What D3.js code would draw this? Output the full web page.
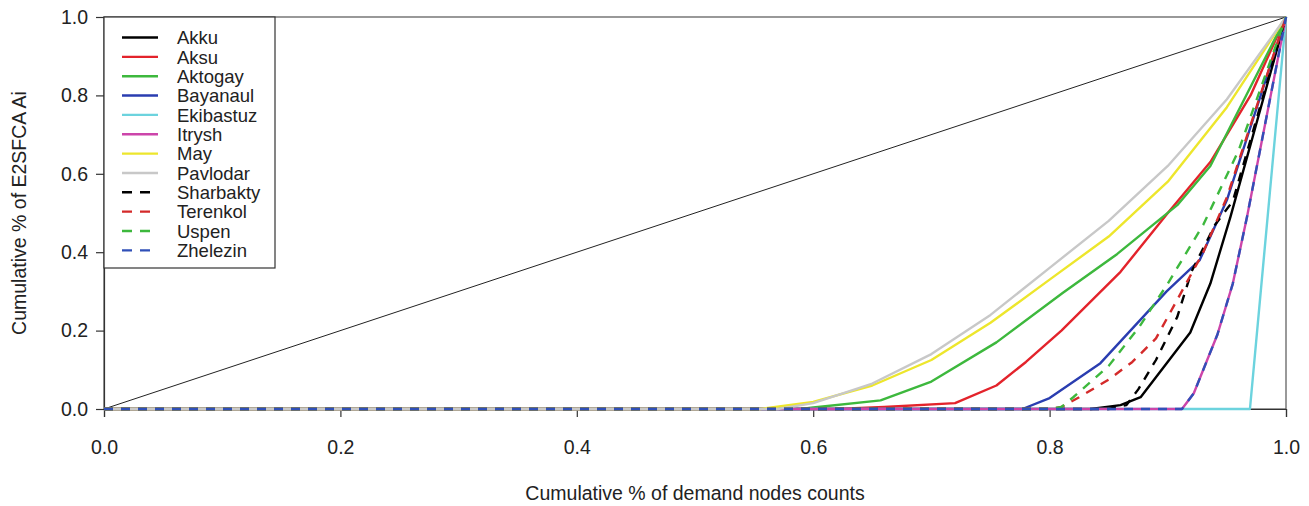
<!DOCTYPE html>
<html>
<head>
<meta charset="utf-8">
<script src="https://cdn.jsdelivr.net/npm/d3@7"></script>
<style>
  html, body { margin: 0; padding: 0; background: #fff; }
  svg { display: block; }
  text { font-family: "Liberation Sans", Arial, sans-serif; fill: #222; }
</style>
</head>
<body>
<svg id="chart" width="1309" height="506"></svg>
<script>
// ---- data ----
const seriesNames = ["Akku","Aksu","Aktogay","Bayanaul","Ekibastuz","Itrysh","May","Pavlodar","Sharbakty","Terenkol","Uspen","Zhelezin"];
const seriesColors = ["#000000","#E3232B","#3DB83D","#2A3DB0","#6CD3DE","#CC45AA","#EDE62C","#C8C8C8","#000000","#D42A2A","#3DB83D","#3050B8"];
const seriesDashed = [false,false,false,false,false,false,false,false,true,true,true,true];

const akkuX = [0, 0.835, 0.86, 0.877, 0.919, 0.936, 0.953, 1];
const akkuY = [0, 0, 0.01, 0.03, 0.195, 0.32, 0.49, 1];
const aksuX = [0, 0.62, 0.66, 0.72, 0.755, 0.78, 0.81, 0.86, 0.9, 0.936, 0.97, 1];
const aksuY = [0, 0, 0.005, 0.015, 0.06, 0.12, 0.2, 0.35, 0.5, 0.63, 0.8, 1];
const aktogayX = [0, 0.59, 0.6, 0.657, 0.7, 0.755, 0.811, 0.857, 0.908, 0.936, 1];
const aktogayY = [0, 0, 0.004, 0.022, 0.07, 0.17, 0.296, 0.395, 0.52, 0.62, 1];
const bayanaulX = [0, 0.777, 0.8, 0.843, 0.899, 0.927, 0.95, 1];
const bayanaulY = [0, 0, 0.028, 0.117, 0.3, 0.38, 0.533, 1];
const ekibastuzX = [0, 0.9695, 1];
const ekibastuzY = [0, 0, 1];
const itryshX = [0, 0.912, 0.922, 0.942, 0.955, 0.967, 1];
const itryshY = [0, 0, 0.04, 0.19, 0.32, 0.49, 1];
const mayX = [0, 0.555, 0.6, 0.65, 0.7, 0.75, 0.8, 0.85, 0.9, 0.95, 1];
const mayY = [0, 0, 0.018, 0.06, 0.125, 0.22, 0.33, 0.44, 0.58, 0.77, 1];
const pavlodarX = [0, 0.57, 0.6, 0.65, 0.7, 0.75, 0.8, 0.85, 0.9, 0.95, 1];
const pavlodarY = [0, 0, 0.015, 0.065, 0.14, 0.24, 0.36, 0.48, 0.62, 0.79, 1];
const sharbaktyX = [0, 0.85, 0.865, 0.875, 0.89, 0.908, 0.92, 0.94, 0.955, 1];
const sharbaktyY = [0, 0, 0.01, 0.05, 0.125, 0.235, 0.35, 0.47, 0.53, 1];
const terenkolX = [0, 0.8, 0.81, 0.825, 0.85, 0.87, 0.89, 0.91, 0.93, 0.95, 1];
const terenkolY = [0, 0, 0.005, 0.03, 0.075, 0.12, 0.18, 0.29, 0.4, 0.54, 1];
const uspenX = [0, 0.8, 0.81, 0.82, 0.85, 0.876, 0.9, 0.93, 0.96, 1];
const uspenY = [0, 0, 0.005, 0.03, 0.11, 0.21, 0.32, 0.47, 0.66, 1];
const zhelezinX = [0, 0.912, 0.922, 0.942, 0.955, 0.967, 1];
const zhelezinY = [0, 0, 0.04, 0.19, 0.32, 0.49, 1];

const equalityX = [0, 1];
const equalityY = [0, 1];

const xTicks = [0, 0.2, 0.4, 0.6, 0.8, 1.0];
const yTicks = [0, 0.2, 0.4, 0.6, 0.8, 1.0];
const xTitle = "Cumulative % of demand nodes counts";
const yTitle = "Cumulative % of E2SFCA Ai";

const seriesXs = [akkuX, aksuX, aktogayX, bayanaulX, ekibastuzX, itryshX, mayX, pavlodarX, sharbaktyX, terenkolX, uspenX, zhelezinX];
const seriesYs = [akkuY, aksuY, aktogayY, bayanaulY, ekibastuzY, itryshY, mayY, pavlodarY, sharbaktyY, terenkolY, uspenY, zhelezinY];

// ---- layout ----
const padL = 104, padR = 1286, padT = 17, padB = 409;
const svg = d3.select("#chart");
const x = d3.scaleLinear().domain([0, 1]).range([padL, padR]);
const y = d3.scaleLinear().domain([0, 1]).range([padB, padT]);
const line = d3.line().x(d => x(d[0])).y(d => y(d[1]));

// frame (drawn first, lines go on top as in the reference)
svg.append("rect").attr("x", padL).attr("y", padT)
  .attr("width", padR - padL).attr("height", padB - padT)
  .attr("fill", "none").attr("stroke", "#555").attr("stroke-width", 1.2);

// axes
const fmt = d3.format(".1f");
const xAxis = svg.append("g").attr("transform", `translate(0,${padB})`)
  .call(d3.axisBottom(x).tickValues(xTicks).tickFormat(fmt).tickSize(8).tickPadding(23));
const yAxis = svg.append("g").attr("transform", `translate(${padL},0)`)
  .call(d3.axisLeft(y).tickValues(yTicks).tickFormat(fmt).tickSize(8).tickPadding(8));
[xAxis, yAxis].forEach(a => {
  a.select(".domain").attr("stroke", "#333").attr("stroke-width", 1.2);
  a.selectAll(".tick line").attr("stroke", "#333").attr("stroke-width", 1.2);
  a.selectAll(".tick text").attr("font-size", 19.5).attr("font-family", "Liberation Sans, Arial, sans-serif").attr("fill", "#222");
});

// equality line
svg.append("path")
  .datum(equalityX.map((v, i) => [v, equalityY[i]]))
  .attr("d", line).attr("fill", "none").attr("stroke", "#222").attr("stroke-width", 1);

// series
const plot = svg.append("g");
seriesNames.forEach((name, i) => {
  const pts = seriesXs[i].map((v, j) => [v, seriesYs[i][j]]);
  plot.append("path").datum(pts).attr("d", line)
    .attr("fill", "none")
    .attr("stroke", seriesColors[i])
    .attr("stroke-width", 2.4)
    .attr("stroke-linejoin", "round")
    .attr("stroke-dasharray", seriesDashed[i] ? "9,8" : null);
});

// axis titles
svg.append("text").attr("x", (padL + padR) / 2).attr("y", 500)
  .attr("text-anchor", "middle").attr("font-size", 19.5).text(xTitle);
svg.append("text").attr("transform", `translate(26,${(padT + padB) / 2}) rotate(-90)`)
  .attr("text-anchor", "middle").attr("font-size", 19.5).text(yTitle);

// legend
const lg = svg.append("g");
lg.append("rect").attr("x", padL).attr("y", padT).attr("width", 171).attr("height", 251)
  .attr("fill", "#fff").attr("stroke", "#333").attr("stroke-width", 1.2);
const rowY = i => 37.5 + i * 19.35;
seriesNames.forEach((name, i) => {
  lg.append("line").attr("x1", 122).attr("x2", 158).attr("y1", rowY(i)).attr("y2", rowY(i))
    .attr("stroke", seriesColors[i]).attr("stroke-width", 2.4)
    .attr("stroke-dasharray", seriesDashed[i] ? "10,8" : null);
  lg.append("text").attr("x", 177).attr("y", rowY(i)).attr("dy", "0.36em")
    .attr("font-size", 18.5).text(name);
});
</script>
</body>
</html>
